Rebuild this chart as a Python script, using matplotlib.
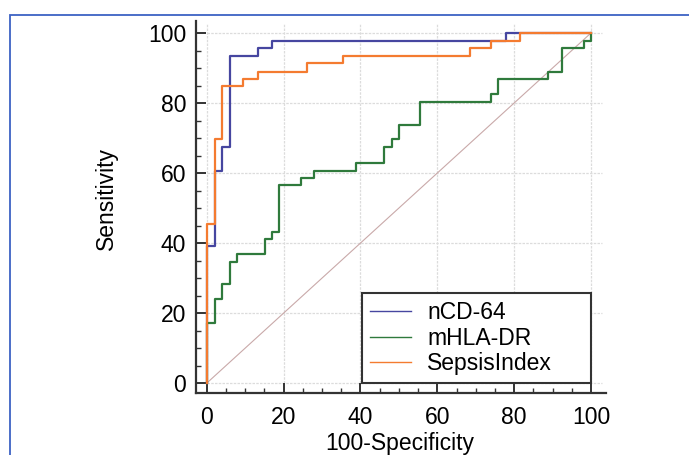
import numpy as np
import matplotlib.pyplot as plt
from matplotlib.lines import Line2D
from matplotlib.patches import Rectangle

# ROC step points (100-Specificity, Sensitivity)
ncd64_x = [0, 0, 2.1, 2.1, 4.0, 4.0, 6.0, 6.0, 13.2, 13.2, 17.0, 17.0, 77.8, 77.8, 100]
ncd64_y = [0, 39.1, 39.1, 60.7, 60.7, 67.3, 67.3, 93.5, 93.5, 95.6, 95.6, 97.8, 97.8, 100, 100]

mhla_x = [0, 0, 2.1, 2.1, 4.0, 4.0, 6.0, 6.0, 7.9, 7.9, 15.1, 15.1, 17.0, 17.0, 18.7,
          18.7, 24.4, 24.4, 27.9, 27.9, 38.9, 38.9, 46.2, 46.2, 48.2, 48.2, 50.0, 50.0,
          55.6, 55.6, 74.1, 74.1, 75.9, 75.9, 88.9, 88.9, 92.5, 92.5, 98.2, 98.2, 100, 100]
mhla_y = [0, 17.2, 17.2, 23.9, 23.9, 28.2, 28.2, 34.7, 34.7, 36.9, 36.9, 41.1, 41.1, 43.2, 43.2,
          56.7, 56.7, 58.7, 58.7, 60.7, 60.7, 62.9, 62.9, 67.3, 67.3, 69.6, 69.6, 73.7,
          73.7, 80.4, 80.4, 82.6, 82.6, 86.8, 86.8, 89.0, 89.0, 95.6, 95.6, 97.8, 97.8, 100]

sepsis_x = [0, 0, 2.1, 2.1, 4.0, 4.0, 9.5, 9.5, 13.2, 13.2, 26.2, 26.2, 35.5, 35.5,
            68.5, 68.5, 74.1, 74.1, 81.5, 81.5, 100]
sepsis_y = [0, 45.4, 45.4, 69.6, 69.6, 84.8, 84.8, 86.8, 86.8, 89.0, 89.0, 91.3, 91.3, 93.5,
            93.5, 95.6, 95.6, 97.8, 97.8, 100, 100]

names = ['nCD-64', 'mHLA-DR', 'SepsisIndex']
colors = ['#4646a0', '#2f7a3c', '#f47b30']
major = [0, 20, 40, 60, 80, 100]

plt.rcParams['font.family'] = ['Liberation Sans', 'DejaVu Sans']
fs = 16.5

fig = plt.figure(figsize=(6.89, 4.55), dpi=100)

# blue frame around the figure
fig.patches.append(Rectangle((10 / 689, -0.2), 1.2, 1.2 - 15 / 455,
                             transform=fig.transFigure, fill=False,
                             edgecolor='#3d62c4', linewidth=1.3))

ax = fig.add_axes([0.2846, 0.1358, 0.5954, 0.8178])
ax.set_xlim(-2.8, 104)
ax.set_ylim(-2.9, 103.4)

# grid only over the data area
ax.hlines(major, 0, 103, colors='#dcdcdc', linewidth=0.9, linestyles=(0, (2, 1)), zorder=0)
ax.vlines(major, 0, 103, colors='#dcdcdc', linewidth=0.9, linestyles=(0, (2, 1)), zorder=0)

ax.plot([0, 100], [0, 100], color='#c9a9a9', linewidth=0.8, zorder=1)
ax.plot(ncd64_x, ncd64_y, color=colors[0], linewidth=1.6, zorder=2)
ax.plot(mhla_x, mhla_y, color=colors[1], linewidth=1.6, zorder=2)
ax.plot(sepsis_x, sepsis_y, color=colors[2], linewidth=1.6, zorder=3)

for s in ['top', 'right']:
    ax.spines[s].set_visible(False)
for s in ['left', 'bottom']:
    ax.spines[s].set_color('#333333')
    ax.spines[s].set_linewidth(1.6)

ax.set_xticks(major)
ax.set_yticks(major)
ax.set_xticks(np.arange(0, 101, 5), minor=True)
ax.set_yticks(np.arange(0, 101, 5), minor=True)
ax.tick_params(which='major', direction='in', length=7, width=1.4, color='#333333',
               labelsize=fs)
ax.tick_params(axis='y', which='major', pad=7)
ax.tick_params(axis='x', which='major', pad=9)
ax.tick_params(which='minor', direction='in', length=3.5, width=1.0, color='#333333')

ax.set_xlabel('100-Specificity', fontsize=fs)
ax.set_ylabel('Sensitivity', fontsize=fs)
ax.xaxis.set_label_coords(0.4975, -0.104)
ax.yaxis.set_label_coords(-0.19, 0.522)

handles = [Line2D([], [], color=c, linewidth=1.0) for c in colors]
leg = ax.legend(handles, names, loc='lower left', bbox_to_anchor=(40.4, 0, 59.6, 20),
                bbox_transform=ax.transData, mode='expand', borderaxespad=0,
                fancybox=False, fontsize=fs, handlelength=1.8, handletextpad=0.7,
                borderpad=0.35, labelspacing=0.1, framealpha=1)
leg.get_frame().set_edgecolor('#333333')
leg.get_frame().set_linewidth(1.5)

fig.savefig('out.png', dpi=100)
